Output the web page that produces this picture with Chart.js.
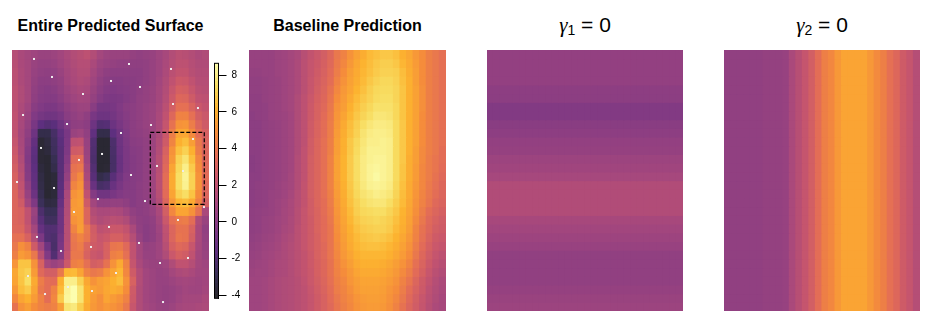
<!DOCTYPE html>
<html><head><meta charset="utf-8">
<script src="https://cdn.jsdelivr.net/npm/chart.js@4"></script>
<style>
html,body{margin:0;padding:0;background:#fff;width:949px;height:324px;overflow:hidden}
canvas{position:absolute}
.t{position:absolute;top:17px;font:bold 16px "Liberation Sans",Arial,sans-serif;color:#000;text-align:center;white-space:nowrap}
.g{top:13px;font:normal 21px "Liberation Sans",Arial,sans-serif}
.g i{font:italic 21px "Liberation Serif",serif}
.g sub{font-size:14px;vertical-align:-3px;line-height:0}
</style></head><body>
<div class="t" style="left:12px;width:197px">Entire Predicted Surface</div>
<div class="t" style="left:249px;width:197px">Baseline Prediction</div>
<div class="t g" style="left:487px;width:196px"><i>γ</i><sub>1</sub> = 0</div>
<div class="t g" style="left:724px;width:196px"><i>γ</i><sub>2</sub> = 0</div>
<canvas id="c1" width="197" height="261" style="left:12px;top:50px"></canvas>
<canvas id="cb" width="40" height="260" style="left:205px;top:50px"></canvas>
<canvas id="c2" width="197" height="261" style="left:249px;top:50px"></canvas>
<canvas id="c3" width="196" height="261" style="left:487px;top:50px"></canvas>
<canvas id="c4" width="196" height="261" style="left:724px;top:50px"></canvas>
<script>
const surfaceRows = [
[1.6,1.2,1.0,0.8,0.6,0.6,0.7,0.9,1.2,1.5,1.7,1.9,1.5,1.0,0.7,0.6,0.6,0.6,0.4,0.3,0.4,0.5,0.8,1.1,1.5,1.8,1.7,1.5,1.3,1.4],
[1.7,1.2,1.0,0.6,0.4,0.4,0.5,0.8,1.1,1.4,1.6,1.6,1.2,0.7,0.5,0.4,0.3,0.3,0.2,0.2,0.3,0.5,0.8,1.2,1.6,1.9,1.9,1.6,1.4,1.4],
[1.8,1.3,1.0,0.5,0.3,0.2,0.3,0.6,1.0,1.3,1.5,1.5,1.0,0.5,0.2,0.1,0.1,0.1,0.1,0.1,0.3,0.5,0.8,1.3,1.8,2.1,2.1,1.7,1.5,1.5],
[1.8,1.3,1.0,0.4,0.1,0.1,0.2,0.4,0.9,1.2,1.4,1.3,0.8,0.3,0.0,-0.1,-0.1,0,0.0,0.1,0.3,0.5,0.9,1.4,2.0,2.5,2.4,2.0,1.6,1.6],
[1.9,1.4,1.0,0.3,0,-0.1,0,0.3,0.7,1.0,1.2,1.1,0.6,0.1,-0.2,-0.3,-0.2,-0.1,0,0.2,.4,.6,1.0,1.5,2.3,2.9,2.8,2.3,1.8,1.7],
[1.9,1.4,1.0,.2,-.1,-.2,-.2,.1,.5,.8,1.0,.9,.4,-.1,-.4,-.5,-.4,-.2,0,.3,.4,.6,1.0,1.6,2.5,3.3,3.2,2.6,2.0,1.9],
[1.9,1.3,.8,0,-.3,-.5,-.5,-.2,.2,.5,.7,.7,0,-.7,-.7,-.6,-.3,0,.1,.3,.5,.7,1.1,1.8,2.8,3.7,3.7,3.1,2.4,2.1],
[2.0,1.2,.6,-.3,-.7,-.9,-.9,-.6,0,.3,.5,.2,-.6,-1,-1,-.8,-.4,-.1,.1,.3,.5,.7,1.2,2.0,3.3,4.4,4.4,3.7,2.8,2.4],
[2.0,1.1,.4,-.6,-1.6,-1.9,-1.7,-1,-.3,.2,.3,.1,-1,-2,-1.9,-1.1,-.6,-.2,.1,.3,.5,.7,1.2,2.2,3.8,5,5.1,4.2,3.2,2.6],
[2.0,1.0,.2,-1,-3.2,-3.2,-2.4,-1.5,-.6,.6,.8,.3,-1.5,-3.2,-3.2,-1.6,-.9,-.3,.1,.2,.4,.7,1.3,2.4,4.2,5.6,5.7,4.7,3.6,2.9],
[2.2,1.1,0,-1.4,-3.8,-3.5,-2.6,-1.7,-.5,1.9,2,.5,-2,-3.9,-3.9,-2.2,-1,-.4,0,.1,.3,.7,1.4,2.6,4.5,6,6.4,5.4,4,3.1],
[2.4,1.2,-.2,-1.6,-3.8,-3.6,-2.7,-1.8,-.4,2.6,2.7,.6,-2.1,-3.9,-3.9,-2.3,-1.1,-.5,-.1,0,.3,.7,1.5,3,5,6.5,7,6,4.2,3.2],
[2.6,1.4,-.3,-1.7,-3.8,-3.9,-3,-1.8,-.2,3.4,3.6,.7,-2.2,-3.9,-3.9,-2.4,-1.2,-.5,-.2,0,.3,.8,1.7,3.2,5.2,7,7.6,6.4,4.6,3.3],
[2.8,1.6,-.2,-1.6,-3.6,-3.9,-3.2,-1.8,.1,3.8,4,1,-2,-3.9,-3.8,-2.4,-1.2,-.5,-.2,0,.3,.8,1.7,3.4,5.6,7.2,8,6.8,4.8,3.4],
[3,1.8,-.1,-1.5,-3.4,-3.9,-3.7,-1.8,.4,4,4.7,1.2,-1.8,-3.2,-2.9,-1.8,-.9,-.3,-.1,0,.3,.8,1.8,3.6,5.8,7.4,8.2,7,5,3.5],
[3.1,2,.2,-1.4,-3.3,-3.9,-3.7,-1.7,.8,4.5,5,1.5,-1.2,-2.4,-2.2,-1.2,-.6,-.2,-.1,.1,.3,.8,1.8,3.6,5.8,7.4,8.1,7,5,3.4],
[3.2,2.2,.5,-1.1,-3.1,-3.9,-3.7,-1.6,1.2,5,5.3,2,-.2,-.9,-.9,-.6,-.3,-.1,-.1,.1,.3,.7,1.7,3.5,5.6,7,7.4,6.6,4.8,3.2],
[3.2,2.6,.9,-.4,-2.8,-3.5,-3.4,-1.3,1.4,5.2,5.4,2.6,.9,.3,.3,.4,.4,.2,-.1,.1,.2,.6,1.5,3.2,5.2,6.2,6.4,5.8,4.4,2.8],
[3.2,3,2,.6,-2.2,-2.9,-2.9,-1,1.5,5.3,5.3,3.2,1.5,1.2,1.2,1.3,1.2,.8,.3,.1,.2,.5,1.2,2.8,4.6,5.6,5.6,5,3.8,1.2],
[3.2,3,2,.4,-1.8,-2.6,-2.6,-1,1.6,5,5.3,3.2,1.8,1.4,1.6,1.8,1.7,1.4,.6,.2,.1,.3,1,2.4,3.7,4.1,4.2,3.6,1.4,.6],
[3.3,3.2,2.3,1,-1.3,-2,-2,-1,1.7,4.5,5.4,4,2.7,1.9,2.1,2.4,2.4,2.1,1.2,.3,0,.2,.8,2,3.2,3.8,3.8,3,1.2,.3],
[3.7,3.7,3,1.5,-.5,-2,-2.2,-.8,1.7,4,4.5,3.9,2.8,2.3,2.5,2.9,2.9,2.5,1.6,.5,0,.2,.7,1.9,3.2,3.9,3.8,2.8,1.2,.4],
[4,4.9,4.4,2.6,.9,-1,-2.3,-.6,1.8,3.9,4.2,3.2,2.6,2.4,3,3.9,4,3.4,2,1,.4,.5,.8,1.7,2.9,3.4,3.2,2.3,1.1,.5],
[4.3,5.3,5,4,1.8,-.3,-2,-.2,2,4,4,3,2.4,2.2,3,4.3,4.5,3.7,2,1,.5,.5,.8,1.4,2.4,2.9,2.7,2,1,.6],
[5.1,6.6,6.6,5,3,1,.6,1,2.5,4.3,4.5,3.7,2.8,3,3.8,5,5.8,4.4,2.2,1.2,.7,.6,.6,.8,1.4,2,2,1.6,1,.8],
[5.7,6.7,7,5.3,3.4,2.8,2.8,4,6.2,6.3,5.6,4.4,4,4.2,5,5.6,6.2,4.6,2.6,1.5,.9,.7,.5,.6,1,1.3,1.4,1.2,.9,.9],
[5.6,6.6,7.4,5.8,4.2,3.6,3.5,6,8,8,7,5.7,5,5.4,5.6,6,6.4,5,3,1.5,.9,.7,.5,.5,.7,.9,1,.9,.8,.9],
[5.2,6.4,6.8,5.6,4,3.6,4.4,6.3,8.2,8.6,7.6,6,5.5,5.3,5.7,5.9,5.7,4.8,2.6,1.4,.9,.7,.5,.4,.5,.7,.9,.8,.8,1],
[4.6,5.6,6,5.3,4.4,3.6,4.6,6.8,8.3,8.6,7.6,6,5.3,4.9,5.6,5.3,5,4.4,2.5,1.4,.9,.7,.5,.4,.5,.8,1,1,1,1.2],
[3.8,5,5.4,4.8,4.4,4.2,4.4,5.4,7.6,7.8,6.9,5.8,5.2,4.9,5.2,5,4.7,4,2.3,1.4,1,.8,.6,.5,.7,1,1.1,1.1,1.2,1.3]
];
const baselineRows = [
[.5,.5,.5,.5,.7,.8,1,1.2,1.7,2.1,2.4,2.8,3.3,4,4.4,5,5.5,5.9,6.3,6.5,6.7,6.7,6.5,6,5.7,5.2,4.8,4.3,4,3.7],
[.5,.5,.5,.5,.7,.8,1,1.3,1.8,2.2,2.5,2.9,3.4,4.1,4.6,5.2,5.7,6.1,6.4,6.7,6.9,6.9,6.7,6.2,5.8,5.3,4.8,4.3,4,3.7],
[.4,.4,.5,.5,.7,.8,1,1.3,1.8,2.2,2.6,3,3.5,4.2,4.8,5.4,5.8,6.2,6.5,6.8,7,7,6.9,6.4,5.9,5.4,4.8,4.3,4,3.7],
[.3,.3,.4,.5,.6,.8,1,1.3,1.8,2.3,2.7,3.1,3.6,4.4,5,5.5,5.9,6.3,6.7,7,7.2,7.2,7,6.5,6,5.4,4.8,4.3,4,3.7],
[.3,.3,.4,.5,.6,.8,1,1.3,1.8,2.3,2.8,3.2,3.8,4.6,5.2,5.6,6.1,6.5,6.9,7.2,7.3,7.3,7.1,6.6,6,5.5,4.9,4.3,4,3.7],
[.2,.2,.4,.5,.6,.8,1,1.4,1.9,2.4,2.9,3.3,3.9,4.8,5.3,5.8,6.3,6.7,7,7.3,7.4,7.4,7.1,6.6,6,5.5,4.9,4.3,4,3.7],
[.2,.2,.3,.5,.6,.8,1,1.4,1.9,2.5,3,3.4,4,5,5.4,6,6.5,6.9,7.2,7.5,7.5,7.5,7.2,6.6,6,5.5,4.9,4.3,4,3.7],
[.1,.2,.3,.5,.6,.7,.9,1.4,1.9,2.5,3,3.5,4.1,5.1,5.6,6.2,6.7,7.1,7.4,7.7,7.7,7.6,7.2,6.6,6,5.5,4.8,4.3,4,3.7],
[.1,.1,.3,.4,.5,.7,.9,1.4,1.9,2.6,3.1,3.6,4.2,5.2,5.8,6.4,6.9,7.4,7.7,7.9,7.9,7.8,7.3,6.7,6,5.5,4.8,4.3,4,3.7],
[.1,.1,.3,.4,.5,.7,.9,1.4,1.9,2.6,3.1,3.6,4.2,5.3,5.9,6.5,7,7.6,7.9,8,8,7.9,7.3,6.7,6,5.5,4.8,4.3,4,3.7],
[.1,.1,.3,.4,.5,.7,.9,1.4,1.9,2.7,3.2,3.7,4.3,5.4,6,6.7,7.2,7.7,8,8,8.1,8,7.3,6.7,6,5.5,4.8,4.3,4,3.7],
[.1,.1,.3,.4,.5,.7,.9,1.4,2,2.7,3.2,3.7,4.3,5.4,6,6.7,7.3,7.8,8.1,8.1,8.1,8,7.3,6.7,6,5.4,4.7,4.3,4,3.6],
[0,.1,.3,.4,.5,.7,.9,1.5,2,2.8,3.2,3.7,4.4,5.5,6.1,6.8,7.4,7.9,8.1,8.2,8.2,8,7.3,6.7,5.9,5.4,4.7,4.2,3.9,3.6],
[0,.1,.3,.4,.5,.7,.9,1.5,2,2.8,3.2,3.7,4.4,5.5,6.1,6.8,7.4,7.9,8.2,8.3,8.2,8,7.3,6.6,5.9,5.3,4.6,4.2,3.9,3.5],
[.1,.1,.3,.4,.5,.7,1,1.5,2,2.8,3.2,3.7,4.4,5.5,6.1,6.8,7.4,7.9,8.2,8.4,8.2,8,7.3,6.6,5.9,5.3,4.6,4.2,3.8,3.4],
[.1,.2,.3,.4,.6,.8,1,1.5,2.1,2.8,3.2,3.7,4.4,5.4,6,6.7,7.3,7.8,8.1,8.2,8.1,7.9,7.2,6.5,5.8,5.2,4.6,4.1,3.7,3.3],
[.1,.2,.3,.5,.6,.8,1.1,1.6,2.1,2.8,3.2,3.7,4.3,5.3,5.9,6.6,7.2,7.6,7.8,8,7.9,7.7,7.1,6.4,5.8,5.1,4.5,4,3.6,3.2],
[.1,.2,.3,.5,.7,.9,1.2,1.6,2.1,2.7,3.2,3.6,4.2,5.2,5.8,6.5,7,7.4,7.6,7.7,7.7,7.4,6.9,6.3,5.7,5,4.4,3.9,3.4,3.1],
[.2,.3,.4,.5,.7,1,1.2,1.7,2.2,2.7,3.1,3.6,4.1,5.1,5.7,6.3,6.9,7.2,7.3,7.4,7.4,7.1,6.7,6.1,5.6,4.9,4.2,3.6,3.2,2.9],
[.2,.3,.5,.6,.8,1,1.3,1.7,2.2,2.6,3.1,3.5,4,5,5.6,6.2,6.7,7,7.1,7.2,7.1,6.9,6.5,6,5.5,4.7,4,3.4,3,2.7],
[.2,.3,.5,.6,.8,1.1,1.3,1.8,2.2,2.6,3.1,3.5,3.9,4.9,5.5,6,6.5,6.8,6.9,7,7,6.8,6.3,5.9,5.4,4.5,3.8,3.3,2.8,2.6],
[.3,.4,.6,.7,.9,1.2,1.4,1.8,2.2,2.6,3,3.5,3.9,4.8,5.4,5.9,6.3,6.6,6.7,6.8,6.7,6.5,6.1,5.7,5.2,4.4,3.7,3.1,2.6,2.4],
[.4,.5,.7,.8,1,1.3,1.5,1.8,2.2,2.6,3,3.4,3.9,4.7,5.3,5.8,6.2,6.4,6.5,6.5,6.4,6.2,5.9,5.5,5,4.2,3.5,2.9,2.4,2.2],
[.5,.6,.8,.9,1.1,1.3,1.5,1.8,2.1,2.5,3,3.4,3.9,4.6,5.2,5.6,6,6.2,6.2,6.2,6.2,6,5.7,5.3,4.8,4,3.3,2.7,2.2,1.9],
[.6,.7,.8,1,1.2,1.3,1.5,1.8,2.1,2.5,2.9,3.3,3.8,4.5,5,5.4,5.8,6,6,6,5.9,5.7,5.4,5,4.5,3.7,3.1,2.5,2,1.7],
[.7,.8,.8,1,1.2,1.3,1.5,1.8,2.1,2.4,2.9,3.3,3.8,4.4,4.8,5.2,5.6,5.8,5.8,5.8,5.7,5.5,5.2,4.7,4.2,3.5,2.9,2.3,1.8,1.5],
[.8,.8,.9,1.1,1.3,1.4,1.5,1.7,2,2.4,2.8,3.2,3.7,4.3,4.6,5.1,5.4,5.6,5.6,5.6,5.5,5.3,5,4.4,3.9,3.2,2.6,2.1,1.6,1.3],
[.8,.8,.9,1.1,1.3,1.4,1.5,1.7,1.9,2.3,2.7,3.1,3.6,4.2,4.5,4.9,5.3,5.5,5.5,5.5,5.4,5.1,4.8,4.2,3.6,3,2.5,1.9,1.5,1.2],
[.8,.8,.9,1.1,1.3,1.4,1.5,1.7,1.9,2.2,2.6,3,3.5,4,4.4,4.7,5.1,5.3,5.4,5.4,5.3,5,4.6,4,3.4,2.8,2.3,1.8,1.4,1.1],
[.8,.8,.9,1.1,1.3,1.4,1.5,1.7,1.9,2.2,2.6,3,3.4,3.9,4.3,4.6,5,5.2,5.3,5.3,5.2,4.9,4.4,3.8,3.2,2.7,2.2,1.7,1.3,1.1]
];
const gamma1Rows = [.35,.35,.35,.35,.15,.1,-.25,-.25,0,.15,.35,.45,.7,.85,1.05,1.45,1.45,1.45,1.45,1.1,.9,.75,.55,.3,.3,.3,.3,.45,.6,.7];
const gamma2Cols = [.3,.3,.3,.3,.3,.3,.4,.4,.4,.5,1.2,1.7,2.2,2.8,3.6,4.3,4.6,5.2,5.6,5.6,5.6,5.6,5.2,4.7,4.3,3.7,3.3,2.6,2.2,1.6];
const sitesCol = [3.35,17.82,24.21,6.09,15.08,19.49,10.81,24.52,28.32,1.68,21.17,8.38,16.6,27.56,4.42,13.71,10.2,22.08,26.04,18.12,.76,6.4,13.1,20.25,29.24,9.44,25.28,14.77,3.81,19.34,12.03,7.46,26.8,22.54,15.84,2.44,8.53,12.18,5.03,23];
const sitesRow = [28.97,28.39,27.82,26.9,26.44,25.75,24.94,23.79,23.33,22.53,21.38,21.49,20.46,19.77,18.74,18.05,17.36,16.67,16.09,15.63,14.83,14.14,12.87,12.64,11.95,11.38,10.46,9.66,8.51,7.82,7.36,6.9,6.09,5.52,4.37,4.02,2.76,2.3,1.95,1.03];
const windowCol = [21.06,29.28,29.28,21.06,21.06];
const windowRow = [20.54,20.54,12.26,12.26,20.54];
const colorTicks = [8,6,4,2,0,-2,-4];
const vMin = -4.16, vMax = 8.64;
const inferno = [[0,0,4],[22,11,57],[66,10,104],[106,23,110],[147,38,103],[188,55,84],[221,81,58],[243,120,25],[252,165,10],[246,215,70],[252,255,164]];
function color(v){
  const t = Math.max(0,Math.min(0.9999,(v-vMin)/(vMax-vMin)))*10, i=Math.floor(t), f=t-i;
  const a=inferno[i], b=inferno[i+1];
  return `rgb(${a.map((c,k)=>Math.round((c+(b[k]-c)*f)*0.85+38.25)).join(',')})`;
}
const N = 30, idx = Array.from({length:N},(_,i)=>i);
function heat(id, rows, extra){
  const datasets = rows.map((r,j)=>({
    type:'bar', data:r.map(()=>[N-1-j,N-j]),
    backgroundColor:r.map(color), borderWidth:0, barPercentage:1, categoryPercentage:1, grouped:false, inflateAmount:0.6, order:2, yAxisID:'y', xAxisID:'x'
  })).concat(extra||[]);
  return new Chart(document.getElementById(id),{
    type:'bar',
    data:{labels:idx,datasets},
    options:{responsive:false,animation:false,events:[],layout:{padding:0,autoPadding:false},
      plugins:{legend:{display:false},tooltip:{enabled:false},title:{display:false}},
      scales:{x:{type:'category',display:false,offset:true,grid:{display:false}},
              x2:{type:'linear',display:false,offset:false,min:0,max:N,grid:{display:false}},
              y:{type:'linear',display:false,min:0,max:N,grid:{display:false}}}}
  });
}
const sites = {type:'scatter',data:sitesCol.map((x,i)=>({x,y:sitesRow[i]})),pointStyle:'rect',pointRadius:1.42,
  backgroundColor:'#eeeeee',borderWidth:0,order:1,xAxisID:'x2',yAxisID:'y'};
const box = {type:'line',data:windowCol.map((x,i)=>({x,y:windowRow[i]})),
  borderColor:'#000',borderWidth:1.2,borderDash:[4,2],pointRadius:0,fill:false,tension:0,order:0,xAxisID:'x2',yAxisID:'y'};
heat('c1',surfaceRows,[sites,box]);
heat('c2',baselineRows);
heat('c3',gamma1Rows.map(v=>idx.map(()=>v)));
heat('c4',idx.map(()=>gamma2Cols));
// colour bar
const barLevels = Array.from({length:64},(_,i)=>i);
new Chart(document.getElementById('cb'),{
  type:'bar',
  data:{labels:['bar'],datasets:barLevels.map(i=>{const lo=vMin+(vMax-vMin)*i/64,hi=vMin+(vMax-vMin)*(i+1)/64;
    return {data:[[lo,hi]],backgroundColor:color((lo+hi)/2),borderWidth:0,barPercentage:1,categoryPercentage:1,grouped:false,inflateAmount:0.6};})},
  options:{responsive:false,animation:false,events:[],
    layout:{padding:{left:9.5,top:13.3,bottom:11.7,right:0}},
    plugins:{legend:{display:false},tooltip:{enabled:false}},
    scales:{x:{display:false,offset:true,grid:{display:false}},
      y:{position:'right',min:vMin,max:vMax,afterFit:s=>{s.width=26.5;},
         afterBuildTicks:a=>{a.ticks=colorTicks.map(v=>({value:v}));},
         grid:{display:true,drawOnChartArea:false,drawTicks:true,tickLength:8,tickColor:'#000',tickWidth:1},border:{display:true,color:'#000',width:1},
         ticks:{color:'#000',font:{family:'Liberation Sans',size:10},padding:5,maxRotation:0,autoSkip:false,callback:v=>String(v)}}}},
  plugins:[{id:'frame',afterDraw(c){const a=c.chartArea,g=c.ctx;g.save();g.strokeStyle='#000';g.lineWidth=1;g.strokeRect(a.left,a.top,a.right-a.left,a.bottom-a.top);g.restore();}}]
});
</script></body></html>
